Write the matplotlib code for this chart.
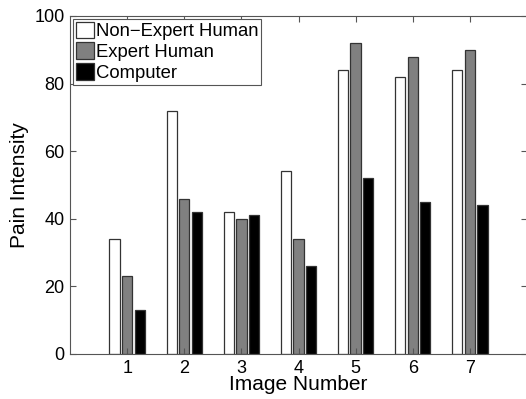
import numpy as np
import matplotlib
matplotlib.use("Agg")
import matplotlib.pyplot as plt

# data
images = [1, 2, 3, 4, 5, 6, 7]
non_expert = [34, 72, 42, 54, 84, 82, 84]
expert = [23, 46, 40, 34, 92, 88, 90]
computer = [13, 42, 41, 26, 52, 45, 44]

plt.rcParams['font.family'] = ['Liberation Sans', 'DejaVu Sans']

fig = plt.figure(figsize=(5.26, 3.99), dpi=100)
ax = fig.add_axes([70 / 526, 45 / 399, 457 / 526, 338 / 399])

x = np.array(images)
w = 0.18
off = 0.22
edge = "#333333"
ax.bar(x - off, non_expert, w, color="white", edgecolor=edge, linewidth=0.9, label="Non\u2212Expert Human")
ax.bar(x, expert, w, color="#808080", edgecolor=edge, linewidth=0.9, label="Expert Human")
ax.bar(x + off, computer, w, color="black", edgecolor=edge, linewidth=0.9, label="Computer")

ax.set_xlim(0, 8)
ax.set_ylim(0, 100)
ax.set_xticks(images)
ax.set_yticks([0, 20, 40, 60, 80, 100])
ax.tick_params(direction="in", top=True, right=True, labelsize=13, length=4,
               color="#555555", pad=4)
for s in ax.spines.values():
    s.set_color("#555555")
    s.set_linewidth(0.8)

ax.set_xlabel("Image Number", fontsize=15, labelpad=-1)
ax.set_ylabel("Pain Intensity", fontsize=15, labelpad=4)

leg = ax.legend(loc="upper left", fontsize=13.3, fancybox=False, framealpha=1,
                borderaxespad=0.15, handlelength=1.0, handleheight=1.0,
                handletextpad=0.1, labelspacing=0.12, borderpad=0.15)
leg.get_frame().set_edgecolor("#555555")
leg.get_frame().set_linewidth(0.8)

fig.savefig("out.png", dpi=100)
